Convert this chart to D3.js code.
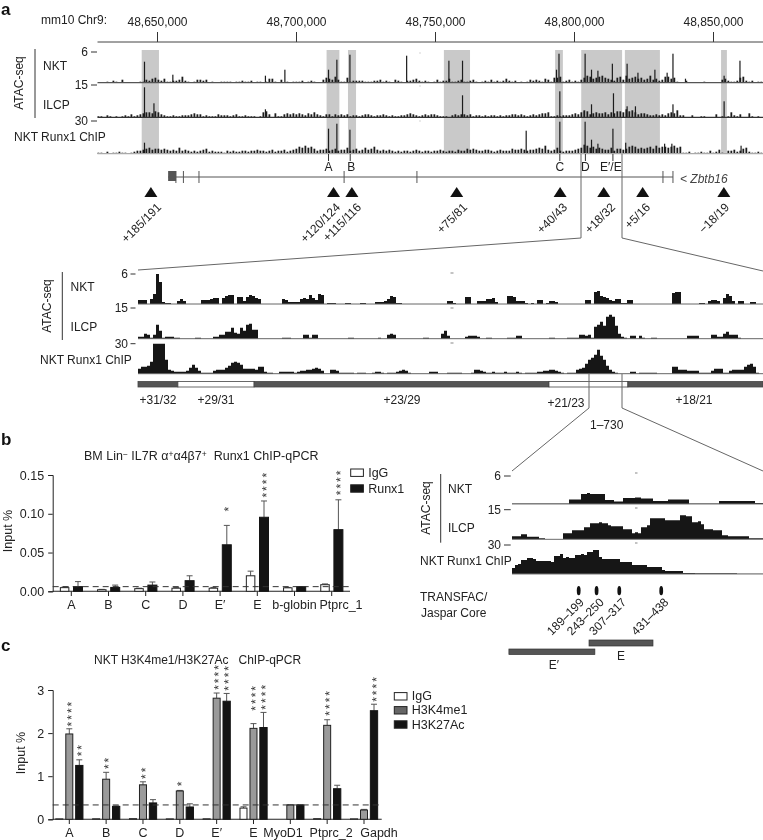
<!DOCTYPE html>
<html><head><meta charset="utf-8">
<script src="https://cdn.jsdelivr.net/npm/d3@7"></script>
<style>
html,body{margin:0;padding:0;background:#fff}
svg{display:block;filter:grayscale(1)}
text{font-family:"Liberation Sans",Arial,sans-serif;font-size:12px;fill:#222;white-space:pre}
.pl{font-size:17px;font-weight:bold;fill:#111}
</style></head><body><svg id="c" width="763" height="840"></svg>
<script>
// ---- panel a: genome browser data (kb on mm10 chr9; signal 0-30 units) ----
const genomeTicks=[48650000,48700000,48750000,48800000,48850000];
const shadedKb=[[48644.5,48650.7],[48711.0,48715.6],[48718.7,48721.6],[48753.2,48762.6],[48793.2,48796.0],[48802.6,48817.3],[48818.3,48830.9],[48852.9,48855.0]];
const topBinStartKb=48628.6, topBinKb=1.079;
const topNKT=[0,0,0,1,0,2,1,0,3,0, 0,0,0,0,1,1,3,2,4,5, 3,2,4,1,1,2,2,3,6,2, 1,0,1,3,3,2,3,0,1,0, 0,1,1,1,1,0,1,1,2,1, 1,2,0,1,1,0,1,4,4,1, 0,3,0,1,0,1,1,1,2,0, 1,2,1,0,0,3,5,4,3,6, 3,1,1,5,1,2,2,2,2,1, 1,1,2,2,3,1,2,1,0,3, 2,1,0,2,2,3,4,2,1,2, 1,0,1,3,1,2,2,4,1,1, 2,3,1,1,2,3,1,0,1,2, 1,3,1,2,1,2,4,2,1,2, 0,1,0,1,3,2,3,2,1,4, 3,1,5,5,6,1,2,3,1,2, 1,3,5,7,6,4,5,6,7,5, 4,3,2,5,6,3,7,4,5,6, 4,5,3,4,7,3,4,2,3,6, 6,4,5,1,0,0,2,0,0,0, 0,0,1,0,0,0,0,0,3,4, 2,1,1,2,5,6,2,1,2,0, 1,1];
const topILCP=[1,1,0,2,1,0,1,0,1,2, 1,3,1,2,3,4,5,5,4,6, 5,3,2,1,1,2,1,1,2,2, 2,3,4,3,3,1,2,1,1,1, 3,2,2,2,1,2,3,1,1,2, 1,1,1,0,1,5,6,3,0,4, 1,1,3,4,3,4,3,4,3,2, 4,3,5,3,2,1,3,3,1,3, 2,3,2,3,1,2,2,1,2,3, 3,2,1,2,2,3,2,1,2,1, 1,2,2,3,4,3,2,1,2,3, 2,3,3,2,1,1,1,0,2,3, 2,3,3,2,3,1,2,2,1,2, 1,2,2,1,2,1,2,2,3,3, 2,3,2,1,2,3,2,3,4,4, 5,1,1,2,1,2,2,2,3,4, 3,5,7,6,3,4,5,4,4,5, 3,5,4,6,6,5,8,6,7,5, 3,4,4,3,2,2,3,2,3,2, 4,5,4,7,2,2,0,0,2,0, 0,1,1,0,0,0,3,0,1,0, 1,5,2,1,3,0,0,4,1,0, 1,0];
const topChIP=[1,1,0,2,0,1,1,2,1,1, 0,1,2,3,3,4,5,6,4,5, 5,4,5,4,3,4,3,6,3,4, 3,2,3,2,3,4,5,2,3,2, 2,2,1,3,2,3,2,2,3,3, 2,3,3,4,3,3,2,3,4,2, 3,3,4,2,3,4,5,7,6,8, 6,7,5,3,4,4,5,3,4,5, 3,4,4,6,3,4,5,3,4,6, 4,5,7,4,3,4,3,4,3,2, 3,2,3,3,2,3,4,3,2,3, 3,2,3,3,4,3,2,3,3,2, 4,3,3,5,4,5,4,3,3,4, 4,3,2,3,4,3,3,3,5,4, 4,5,4,3,4,4,5,6,5,8, 4,3,4,6,3,2,3,3,3,4, 5,6,9,8,6,7,5,6,5,4, 4,6,3,5,5,4,5,7,8,7, 5,6,5,6,7,5,8,6,7,7, 6,7,8,6,7,1,1,2,0,1, 1,2,1,1,3,1,2,4,1,0, 3,3,4,2,3,5,6,2,1,1, 2,1];
const peaksNKT=[[48645.5,21],[48655.7,8],[48689.0,7],[48696.0,13],[48711.7,13],[48714.7,23],[48719.4,28],[48739.8,27],[48755.0,22],[48759.9,22],[48793.7,13],[48794.6,29],[48804.0,29],[48806.3,13],[48808.6,12],[48813.8,19],[48819.1,19],[48823.0,10],[48829.1,13],[48833.5,10],[48835.6,29],[48840.1,4],[48854.0,7],[48859.7,22]];
const peaksILCP=[[48645.5,30],[48648.9,14],[48689.0,8],[48759.9,22],[48794.9,26],[48803.7,6],[48806.3,13],[48814.2,24],[48819.1,11],[48822.1,11],[48835.6,13],[48854.0,16]];
const peaksChIP=[[48645.5,11],[48711.7,25],[48714.7,30],[48719.4,24],[48782.8,23],[48794.9,32],[48804.0,32],[48806.3,14],[48808.6,10],[48814.0,25],[48818.6,11],[48832.6,10],[48835.2,10],[48860.1,8]];
const regionLabels=["A","B","C","D","E′/E"], regionTickKb=[48711.7,48719.5,48794.9,48804.1,48814.0];
const geneSpanKb=[48654,48835.6], geneExonKb=[48656.8,48659.5,48665.1,48717.3,48743.5,48832.0,48835.6];
const triangleKb=[48647.8,48713.5,48720.1,48757.8,48795.0,48810.7,48824.7,48853.9];
const triangleLabels=["+185/191","+120/124","+115/116","+75/81","+40/43","+18/32","+5/16","−18/19"];
const triangleLabelKb=[48650.7,48715.1,48722.7,48760.8,48796.8,48814.0,48826.6,48855.0];
// ---- panel a: zoom-in tracks ----
const midNKT=[4,4,4,0,5,10,30,22,2,1, 1,0,0,3,5,3,0,0,0,0, 0,4,4,4,5,6,6,0,6,8, 9,9,0,7,7,3,7,9,8,6, 5,0,0,0,0,0,0,0,5,4, 2,2,2,2,5,6,5,9,6,4, 10,9,0,1,1,1,0,0,0,1, 1,0,0,0,1,1,0,0,0,2, 2,2,3,5,8,7,1,1,0,0, 0,0,0,0,0,0,0,0,0,0, 0,0,0,3,3,1,0,0,0,7, 7,0,0,3,3,3,5,5,6,2, 0,0,0,8,8,7,3,3,3,1, 0,1,0,4,4,0,1,3,3,2, 0,0,0,0,0,0,0,0,0,4, 4,0,12,13,8,7,6,4,3,5, 5,1,1,4,4,0,0,0,0,0, 0,0,0,0,0,0,0,0,11,12, 12,0,0,0,0,0,0,1,1,0, 3,4,4,3,0,6,10,8,3,0, 3,3,0,0,2,2,0,0,0,0];
const midILCP=[2,2,5,4,1,4,14,8,1,2, 2,2,1,1,0,0,0,0,0,1, 1,0,0,0,0,2,2,4,4,7, 7,11,6,5,11,8,14,15,9,9, 0,0,0,0,0,0,0,0,1,1, 1,0,0,0,0,4,4,1,4,4, 0,0,0,0,0,0,0,0,0,0, 1,1,0,0,0,0,0,0,0,0, 1,0,0,4,5,4,0,0,0,0, 0,0,0,0,0,1,1,0,0,0, 0,5,8,3,0,0,0,0,0,2, 3,3,3,2,0,0,1,1,0,0, 0,0,0,1,1,1,3,3,0,0, 0,0,0,0,0,0,0,1,1,0, 0,0,0,1,1,1,1,4,4,3, 4,1,12,14,17,13,22,24,22,13, 5,2,1,0,3,3,0,3,1,0, 0,1,1,0,0,0,0,0,0,0, 0,0,0,3,3,3,3,0,0,0, 0,4,4,2,2,5,7,4,4,4, 1,0,0,0,0,0,0,0,0,0];
const midChIP=[5,7,7,8,12,30,30,30,30,14, 4,3,2,2,2,2,3,6,9,6, 3,1,1,1,1,3,4,4,4,6, 8,11,12,11,9,5,5,5,5,4, 7,7,2,1,1,0,0,2,2,2, 2,2,1,2,3,3,4,4,5,6, 5,3,0,0,4,4,3,1,1,1, 1,1,0,1,1,1,0,0,1,2, 2,1,0,1,1,1,2,3,4,3, 1,0,0,0,0,0,0,2,2,2, 0,0,0,1,1,1,1,1,0,0, 0,1,4,4,3,2,1,1,2,1, 1,1,2,1,1,1,2,1,0,1, 1,1,1,2,2,3,3,4,4,3, 2,1,0,1,1,1,4,5,6,10, 14,16,19,24,18,14,8,4,2,1, 0,0,0,0,2,2,0,1,1,1, 1,1,1,0,0,0,0,0,7,7, 4,4,4,3,3,3,3,1,1,1, 1,3,5,5,5,1,1,3,4,4, 4,4,7,9,10,7,1,0,0,0];
const midSegments=[[0,true],[13.3,false],[38.7,true],[137,false],[163.3,true],[209,null]];
const midSegmentLabels=["+31/32","+29/31","+23/29","+21/23","+18/21"];
// ---- panel a: 1-730 bp zoom ----
const e730NKT=[.5,.5,.5,.5,.5,.5,.5,.5,.5,.5,.5,.5,.5,.5,.5,.5,.5,.5,.5, 4.5,4.5,4.5,4.5, 10,10,11,10,10,10,10,10, 4,4,4, 2.5,2.5,2.5, 6,6,6,6, 6.5,6.5, 5.5,5.5,5.5,5.5, 3,3,3,3,3, 4.5,4.5,4.5,4.5,4.5,4.5,4.5, .5,.5,.5,.5,.5,.5,.5,.5,.5,.5, 3,3,3,3,3,3,3,3,3,3,3,3, 1,1,1];
const e730ILCP=[3,3,3,5,5,2.5,2.5,2.5,2.5,1,1,.3,.3,.3,.3,.3,.3,6,6,6,9,9,9,9,12,12,16,16,16,17,16,16,14,13,13,13,13,10,10,10,6,7,6,12,12,14,21,21,21,21,21,19,19,19,19,19,24,24,23,23,17,17,18,15,10,10,10,9,9,9,4,4,3,3,3,3,3,3,3,1,1,1,1,1];
const e730ChIP=[6,9,10,14,14,16,16,15,13,13,13,13,13,12,18,18,20,16,17,16,16,19,19,20,19,22,22,24,24,17,15,15,15,15,15,15,12,12,12,12,9,9,9,9,9,7,7,7,7,7,4,3,3,3,3,3,3,1,1,1,1,.7,.7,.7,.7,.7,.7,.7,.7,.7,.7,.7,.7,.7,.7,.3,.3,.3,.3,.3,.3,.3,.3,.3];
const motifCentersBp=[194,246,312,434];
const motifLabels=["189–199","243–250","307–317","431–438"];
const motifLabelEndBp=[203,261,326,449];
const fragmentE=[224,410], fragmentEprime=[-9,241];
// ---- panel b ----
const bCats=["A","B","C","D","E′","E","b-globin","Ptprc_1"];
const bIgG=[.0047,.002,.0034,.004,.004,.020,.0045,.0085];
const bIgGTop=[.0055,.0025,.004,.005,.005,.026,.005,.0095];
const bRunx1=[.006,.005,.008,.0137,.060,.0955,.006,.0795];
const bRunx1Top=[.0125,.008,.012,.02,.085,.1165,.006,.118];
const bTicks=[0,.05,.10,.15], bCutoff=.006;
const bStars=[{cat:4,n:1,v:.106},{cat:5,n:4,v:.124},{cat:7,n:4,v:.127}];
// ---- panel c ----
const cCats=["A","B","C","D","E′","E","MyoD1","Ptprc_2","Gapdh"];
const cIgG=[.01,.012,.015,.01,.012,.26,0,.015,.01];
const cIgGTop=[.01,.012,.015,.01,.012,.29,0,.015,.01];
const cMe1=[1.98,.93,.80,.657,2.81,2.11,.33,2.18,.215];
const cMe1Top=[2.1,1.09,.87,.67,2.93,2.22,.34,2.31,.23];
const cAc=[1.25,.30,.38,.286,2.74,2.13,.33,.71,2.52];
const cAcTop=[1.38,.31,.456,.36,2.92,2.48,.34,.79,2.67];
const cTicks=[0,1,2,3], cCutoff=.333;
const cStars=[{cat:0,s:1,n:4,v:2.21},{cat:0,s:2,n:2,v:1.516},{cat:1,s:1,n:2,v:1.22},{cat:2,s:1,n:2,v:.99},{cat:3,s:1,n:1,v:.82},{cat:4,s:1,n:4,v:3.06},{cat:4,s:2,n:4,v:3.04},{cat:5,s:1,n:4,v:2.575},{cat:5,s:2,n:4,v:2.6},{cat:7,s:1,n:4,v:2.46},{cat:8,s:2,n:4,v:2.78}];

const svg=d3.select("#c");
const dark="#1c1c1c", grey="#555";
function T(x,y,s,o={}){const t=svg.append("text").attr("x",x).attr("y",y).attr("dy",".35em").text(s);
  if(o.a)t.attr("text-anchor",o.a); if(o.r!=null)t.attr("transform",`rotate(${o.r} ${x} ${y})`);
  if(o.i)t.attr("font-style","italic"); if(o.c)t.attr("class",o.c); if(o.f)t.style("fill",o.f); return t;}
function L(x1,y1,x2,y2,c=grey,w=1){return svg.append("line").attr("x1",x1).attr("y1",y1).attr("x2",x2).attr("y2",y2).attr("stroke",c).attr("stroke-width",w);}
function P(pts,c="#666",w=1){svg.append("polyline").attr("points",pts.join(" ")).attr("fill","none").attr("stroke",c).attr("stroke-width",w);}

T(1,9.5,"a",{c:"pl"}); T(1,439,"b",{c:"pl"}); T(1,645,"c",{c:"pl"});

// ===== a: top tracks
const g=d3.scaleLinear().domain([48650000,48850000]).range([157,713]);
const kx=k=>g(k*1000);
T(41,20,"mm10 Chr9:");
const ax=svg.append("g").attr("transform","translate(0,42)").call(d3.axisTop(g).tickValues(genomeTicks).tickSize(10).tickPadding(6).tickFormat(d3.format(",")));
ax.select(".domain").remove();
ax.selectAll("line").attr("stroke","#333");
ax.selectAll("text").style("font-size","12px").style("font-family",'"Liberation Sans",Arial,sans-serif').style("fill","#222");
L(97.5,42,763,42,"#444",1);
svg.selectAll(".sh").data(shadedKb).join("rect").attr("x",d=>kx(d[0])).attr("width",d=>kx(d[1])-kx(d[0])).attr("y",50).attr("height",104).attr("fill","#c9c9c9");
[[topNKT,peaksNKT,82.7,"#555"],[topILCP,peaksILCP,117.3,"#333"],[topChIP,peaksChIP,153.7,"#aaa"]].forEach(([bins,peaks,base,lc])=>{
  const y=d3.scaleLinear().domain([0,30]).range([base,base-30]);
  svg.append("g").selectAll("rect").data(bins).join("rect").attr("x",(d,i)=>kx(topBinStartKb+i*topBinKb)).attr("width",1.8).attr("y",d=>y(d)).attr("height",d=>base-y(d)).attr("fill",dark);
  svg.append("g").selectAll("rect").data(peaks).join("rect").attr("x",d=>kx(d[0])-.6).attr("width",1.2).attr("y",d=>y(d[1])).attr("height",d=>base-y(d[1])).attr("fill",dark);
  L(97.5,base,763,base,lc,1.2);
});
[["6",52],["15",85],["30",121]].forEach(([s,y])=>{T(88,y,s,{a:"end"});L(91,y,97,y,"#333",1);});
[53,86,121].forEach(y=>svg.append("rect").attr("x",419.5).attr("y",y-.5).attr("width",1).attr("height",1).attr("fill","#aaa"));
L(35,49,35,118,"#333",1);
T(19,83,"ATAC-seq",{a:"middle",r:-90});
T(43,66,"NKT");T(43,105,"ILCP");T(14,137,"NKT Runx1 ChIP");
regionTickKb.forEach(k=>L(kx(k),154,kx(k),161,"#333",1));
regionLabels.forEach((s,i)=>T(kx(regionTickKb[i])+(i==4?-2:i==1?1:0),167,s,{a:"middle"}));
L(kx(geneSpanKb[0]),177,kx(geneSpanKb[1]),177,"#555",1);
svg.append("rect").attr("x",kx(geneSpanKb[0])).attr("y",171).attr("width",8).attr("height",10).attr("fill","#555");
geneExonKb.forEach(k=>L(kx(k),171,kx(k),183,"#555",1));
T(680,179,"< Zbtb16",{i:1,f:"#444"});
svg.selectAll(".tri").data(triangleKb).join("path").attr("d",d=>`M${kx(d)-6.5},197L${kx(d)},187L${kx(d)+6.5},197Z`).attr("fill","#111");
triangleLabels.forEach((s,i)=>T(kx(triangleLabelKb[i]),205,s,{a:"end",r:-45}));
P([[581,154],[581,238],[138,270]]);
P([[622,154],[622,238],[763,271]]);

// ===== a: middle tracks
const mx=d3.scaleLinear().domain([0,209]).range([138,765]);
function track(bins,xs,base){
  const y=d3.scaleLinear().domain([0,30]).range([base,base-30]);
  const area=d3.area().x((d,i)=>xs(i)).y0(base).y1(d=>y(d)).curve(d3.curveStepAfter);
  svg.append("path").attr("d",area(bins.concat([0]))).attr("fill","#161616");
}
[[midNKT,304],[midILCP,338.7],[midChIP,373.7]].forEach(([b,base])=>{track(b,mx,base);L(138,base,763,base,"#666",1);});
[["6",274],["15",308],["30",343.7]].forEach(([s,y])=>{T(128,y,s,{a:"end"});L(130.5,y,135.5,y,"#333",1);});
[273,308,343].forEach(y=>svg.append("rect").attr("x",450.5).attr("y",y-.5).attr("width",3).attr("height",1).attr("fill","#888"));
L(62.3,272,62.3,340,"#333",1);
T(47,306,"ATAC-seq",{a:"middle",r:-90});
T(70.6,287,"NKT");T(70.6,327,"ILCP");T(40,360,"NKT Runx1 ChIP");
midSegments.slice(0,-1).forEach((d,i)=>{
  const x0=mx(d[0]),x1=Math.min(763,mx(midSegments[i+1][0]));
  svg.append("rect").attr("x",x0).attr("y",381.5).attr("width",x1-x0).attr("height",5.5).attr("fill",d[1]?"#555":"#fff").attr("stroke","#444").attr("stroke-width",.8);
});
[[158,400],[216,400],[402,400],[566,403],[694,400]].forEach((p,i)=>T(p[0],p[1],midSegmentLabels[i],{a:"middle"}));
P([[589,374],[589,408],[512,471]]);
P([[622,374],[622,408],[763,471]]);
T(606.7,425,"1–730",{a:"middle"});

// ===== a: right tracks
const bp=d3.scaleLinear().domain([0,730]).range([512,763]);
const rx=i=>bp(i*3/ (251/730));
[[e730NKT,504],[e730ILCP,539.3],[e730ChIP,574]].forEach(([b,base])=>{track(b,rx,base);L(512,base,763,base,"#777",1);});
[["6",476],["15",509.7],["30",545]].forEach(([s,y])=>{T(501,y,s,{a:"end"});L(504,y,510.7,y,"#333",1);});
[473,508,543].forEach(y=>svg.append("rect").attr("x",635).attr("y",y-.5).attr("width",2.5).attr("height",1).attr("fill","#888"));
L(440.7,474,440.7,542.7,"#333",1);
T(426,508,"ATAC-seq",{a:"middle",r:-90});
T(448,489,"NKT");T(448,528,"ILCP");T(420,561,"NKT Runx1 ChIP");
T(420,597,"TRANSFAC/");T(421,613,"Jaspar Core");
svg.selectAll(".mot").data(motifCentersBp).join("ellipse").attr("cx",d=>bp(d)).attr("cy",590.7).attr("rx",1.9).attr("ry",4.6).attr("fill","#111");
motifLabels.forEach((s,i)=>T(bp(motifLabelEndBp[i]),600,s,{a:"end",r:-45}));
[[fragmentE,640,6],[fragmentEprime,649,5.5]].forEach(([f,y,h])=>svg.append("rect").attr("x",bp(f[0])).attr("y",y).attr("width",bp(f[1])-bp(f[0])).attr("height",h).attr("fill","#555").attr("stroke","#333").attr("stroke-width",.7));
T(621,656,"E",{a:"middle"});T(554,665,"E′",{a:"middle"});

// ===== helpers for bar panels
function yAxis(y,ticks,fmt,x2){
  const a=svg.append("g").attr("transform","translate(52.7,0)").call(d3.axisLeft(y).tickValues(ticks).tickSize(4.5).tickPadding(4).tickFormat(fmt));
  a.select(".domain").attr("stroke","#222").attr("stroke-width",1);
  a.selectAll("line").attr("stroke","#222");
  a.selectAll("text").style("font-size","12.5px").style("font-family",'"Liberation Sans",Arial,sans-serif').style("fill","#222");
  L(52.7,y(0),x2,y(0),"#222",1.1);
}
function bars(vals,tops,xf,y,w,fill,stroke){
  vals.forEach((v,i)=>{
    if(tops[i]>v) {L(xf(i),y(v),xf(i),y(tops[i]),"#555",1);L(xf(i)-3,y(tops[i]),xf(i)+3,y(tops[i]),"#555",1);}
    svg.append("rect").attr("x",xf(i)-w/2).attr("y",y(v)).attr("width",w).attr("height",Math.max(0,y(0)-y(v))).attr("fill",fill).attr("stroke",stroke).attr("stroke-width",1);
  });
}
function stars(x,yBottom,n){
  svg.append("text").attr("transform",`translate(${x},${yBottom}) rotate(-90)`).attr("x",-2.4).attr("y",6.6)
    .style("font-size","12px").style("letter-spacing","2px").style("fill","#333").text("*".repeat(n));
}
function legend(x,items){items.forEach(([s,f,y])=>{svg.append("rect").attr("x",x).attr("y",y-3.7).attr("width",12.7).attr("height",7.4).attr("fill",f).attr("stroke","#222").attr("stroke-width",1);T(x+17.5,y-.3,s).style("font-size","12.5px");});}

// ===== b
const yb=d3.scaleLinear().domain([0,.15]).range([591.3,475]);
const xb=d3.scalePoint().domain(bCats).range([71.3,331.7]);
const t=T(84,455.7,"").style("font-size","12.5px");
[["BM Lin",0],["−",1],[" IL7R α",0],["+",1],["α4β7",0],["+",1],["  Runx1 ChIP-qPCR",0]].forEach(([s,sup],i,arr)=>{
  const ts=t.append("tspan").text(s);
  if(sup){ts.attr("dy",-3.5).style("font-size","8.5px");}
  else if(i&&arr[i-1][1]){ts.attr("dy",3.5);}
});
yAxis(yb,bTicks,d3.format(".2f"),350);
T(8,531,"Input %",{a:"middle",r:-90}).style("font-size","12.5px");
bars(bIgG,bIgGTop,i=>xb(bCats[i])-6.7,yb,8.5,"#fff","#222");
bars(bRunx1,bRunx1Top,i=>xb(bCats[i])+6.7,yb,9,"#141414","#141414");
L(52.7,yb(bCutoff),350,yb(bCutoff),"#333",1).attr("stroke-dasharray","6 4");
bCats.forEach((c,i)=>{L(xb(c),591.3,xb(c),596,"#222",1);T(xb(c)+(i==7?9.3:0),605,c,{a:"middle"}).style("font-size","12.5px");});
bStars.forEach(s=>stars(xb(bCats[s.cat])+6.7,yb(s.v),s.n));
legend(350.7,[["IgG","#fff",472.7],["Runx1","#141414",488.5]]);

// ===== c
const yc=d3.scaleLinear().domain([0,3]).range([819.3,690]);
const xc=d3.scalePoint().domain(cCats).range([69.3,364]);
T(94,659.3,"NKT H3K4me1/H3K27Ac   ChIP-qPCR");
yAxis(yc,cTicks,d3.format("d"),381.7);
T(21,753,"Input %",{a:"middle",r:-90}).style("font-size","12.5px");
bars(cIgG,cIgGTop,i=>xc(cCats[i])-10,yc,7,"#fff","#222");
bars(cMe1,cMe1Top,i=>xc(cCats[i]),yc,7,"#9a9a9a","#222");
bars(cAc,cAcTop,i=>xc(cCats[i])+10,yc,7.3,"#141414","#141414");
L(52.7,yc(cCutoff),381.7,yc(cCutoff),"#333",1).attr("stroke-dasharray","6 4");
const cDx=[0,0,0,0,0,0,-7.3,4,15];
cCats.forEach((c,i)=>{L(xc(c),819.3,xc(c),824,"#222",1);T(xc(c)+cDx[i],832.7,c,{a:"middle"}).style("font-size","12.5px");});
cStars.forEach(s=>stars(xc(cCats[s.cat])+(s.s-1)*10,yc(s.v),s.n));
legend(394.3,[["IgG","#fff",696.3],["H3K4me1","#666",710.3],["H3K27Ac","#141414",724.5]]);
</script></body></html>
